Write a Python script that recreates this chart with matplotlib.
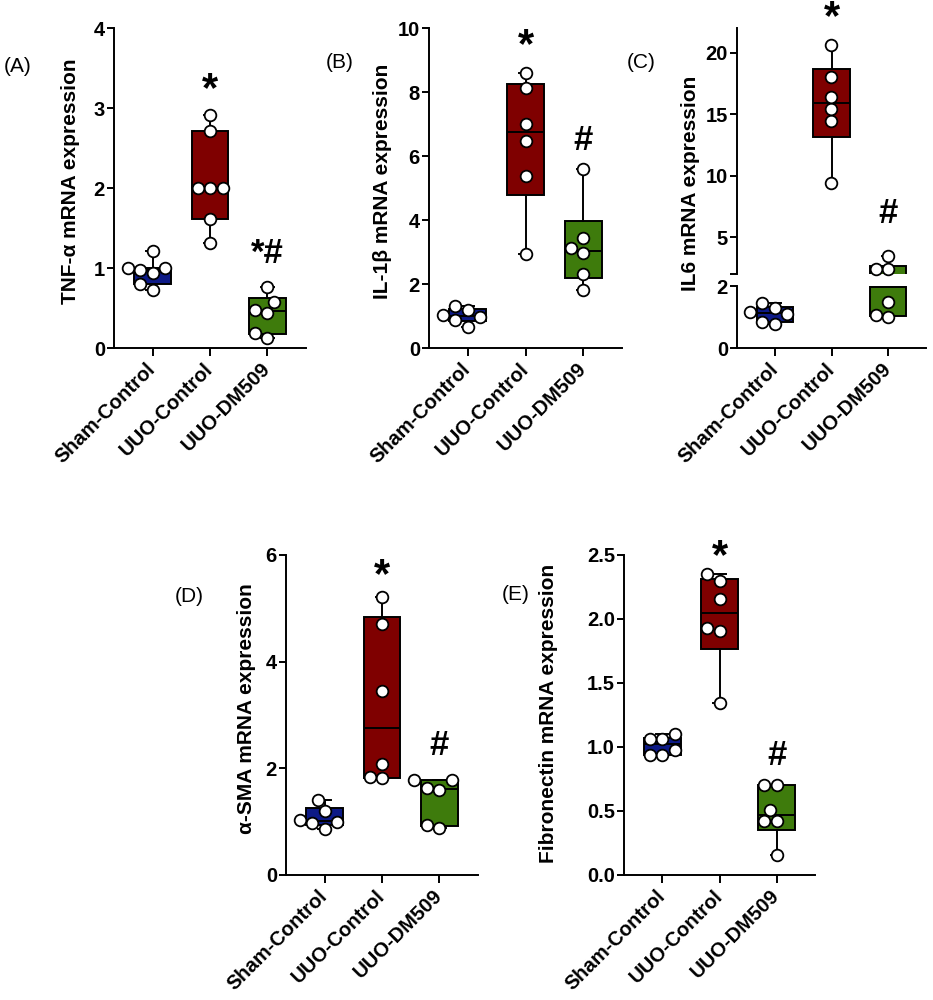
import numpy as np
import matplotlib
matplotlib.use("Agg")
import matplotlib.pyplot as plt

plt.rcParams['font.family'] = ['Liberation Sans', 'DejaVu Sans']

groups = ["Sham-Control", "UUO-Control", "UUO-DM509"]
colors = ["#0d1a87", "#7f0000", "#3e7b0c"]

# Panel A: TNF-alpha
tnf_sham = [0.73, 0.80, 0.94, 0.97, 1.00, 1.00, 1.21]
tnf_uuo = [1.31, 1.61, 2.00, 2.00, 2.00, 2.71, 2.91]
tnf_dm = [0.12, 0.19, 0.44, 0.48, 0.58, 0.76]
# Panel B: IL-1beta
il1_sham = [0.66, 0.89, 0.97, 1.02, 1.20, 1.30]
il1_uuo = [2.95, 5.38, 6.48, 7.00, 8.14, 8.60]
il1_dm = [1.80, 2.30, 2.97, 3.11, 3.44, 5.59]
# Panel C: IL6
il6_sham = [0.79, 0.84, 1.11, 1.17, 1.28, 1.46]
il6_uuo = [9.40, 14.40, 15.40, 16.40, 18.00, 20.65]
il6_dm = [1.00, 1.06, 1.49, 2.42, 2.42, 3.43]
# Panel D: alpha-SMA
sma_sham = [0.86, 0.97, 0.99, 1.04, 1.20, 1.41]
sma_uuo = [1.81, 1.83, 2.08, 3.45, 4.70, 5.22]
sma_dm = [0.89, 0.94, 1.59, 1.64, 1.78, 1.78]
# Panel E: Fibronectin
fn_sham = [0.94, 0.94, 0.98, 1.06, 1.06, 1.10]
fn_uuo = [1.34, 1.91, 1.93, 2.16, 2.30, 2.35]
fn_dm = [0.16, 0.42, 0.42, 0.51, 0.70, 0.70]

W, H = 933, 1000
fig = plt.figure(figsize=(9.33, 10), dpi=100)

def rect(l, r, t, b):
    return [l / W, 1 - b / H, (r - l) / W, (b - t) / H]

TICK_FS = 14.5
LAB_FS = 15
XT_FS = 14.5
PL_FS = 15
MS = 8.4
D_PX = 12.5
LW = 1.4

def style(ax, xlabels=True):
    for s in ['top', 'right']:
        ax.spines[s].set_visible(False)
    for s in ['left', 'bottom']:
        ax.spines[s].set_linewidth(LW)
    ax.set_xlim(-0.67, 2.67)
    ax.tick_params(axis='y', direction='out', length=5, width=LW,
                   labelsize=TICK_FS, pad=1.5)
    ax.tick_params(axis='x', direction='out', length=6, width=LW, pad=7)
    for lb in ax.get_yticklabels():
        lb.set_fontweight('bold')
    ax.set_xticks(range(3))
    if xlabels:
        ax.set_xticklabels(groups, rotation=45, ha='right', va='center',
                           rotation_mode='anchor', fontsize=XT_FS,
                           fontweight='bold')
    else:
        ax.set_xticks([])

def stats(vals):
    v = np.asarray(vals, float)
    q1, med, q3 = np.percentile(v, [25, 50, 75], method='weibull')
    return dict(med=med, q1=q1, q3=q3, whislo=v.min(), whishi=v.max(),
                fliers=[])

def draw_boxes(ax, data):
    for i, d in enumerate(data):
        ax.bxp([stats(d)], positions=[i], widths=0.64, patch_artist=True,
               showfliers=False, capwidths=[0.21],
               boxprops=dict(facecolor=colors[i], edgecolor='black', linewidth=LW),
               medianprops=dict(color='black', linewidth=LW),
               whiskerprops=dict(color='black', linewidth=LW),
               capprops=dict(color='black', linewidth=LW),
               manage_ticks=False, zorder=2)

def swarm(ax_for, data):
    """Beeswarm offsets computed in pixel space from the data values."""
    out = []
    for i, d in enumerate(data):
        placed = []
        order = np.argsort(d)
        res = [None] * len(d)
        for k in order:
            v = d[k]
            ax = ax_for(v)
            x0, y0 = ax.transData.transform((i, v))
            cands = [0]
            for m in range(1, 6):
                cands += [-m * D_PX * 0.5, m * D_PX * 0.5]
            cands = sorted(cands, key=lambda c: (abs(c), c))
            chosen = 0
            for c in cands:
                ok = all(np.hypot(x0 + c - px, y0 - py) >= D_PX * 0.98
                         for px, py in placed)
                if ok:
                    chosen = c
                    break
            placed.append((x0 + chosen, y0))
            xd, _ = ax.transData.inverted().transform((x0 + chosen, y0))
            res[k] = (ax, xd, v)
        out.extend(res)
    return out

def draw_points(pts):
    for ax, x, y in pts:
        ax.plot([x], [y], 'o', ms=MS, mfc='white', mec='black', mew=1.3,
                zorder=5, clip_on=False)

def mark(ax, x, y, s):
    fs = 30 if s == '*' else 25
    ax.text(x, y, s, ha='center', va='center', fontsize=fs,
            fontweight='bold', clip_on=False)

def panel_label(px, py, s):
    fig.text(px / W, 1 - py / H, s, ha='left', va='center', fontsize=PL_FS)

def ylabel(px, py, s):
    fig.text(px / W, 1 - py / H, s, ha='center', va='center', rotation=90,
             fontsize=LAB_FS, fontweight='bold')

# ---- Panel A
axA = fig.add_axes(rect(114, 306, 28, 348))
axA.set_ylim(0, 4)
axA.set_yticks([0, 1, 2, 3, 4])
dA = [tnf_sham, tnf_uuo, tnf_dm]
draw_boxes(axA, dA)
style(axA)
draw_points(swarm(lambda v: axA, dA))
mark(axA, 1, 3.22, '*')
mark(axA, 2, 1.18, '*#')
panel_label(4, 66, '(A)')
ylabel(70, 181, 'TNF-α mRNA expression')

# ---- Panel B
axB = fig.add_axes(rect(429, 622, 28, 348))
axB.set_ylim(0, 10)
axB.set_yticks([0, 2, 4, 6, 8, 10])
dB = [il1_sham, il1_uuo, il1_dm]
draw_boxes(axB, dB)
style(axB)
draw_points(swarm(lambda v: axB, dB))
mark(axB, 1, 9.45, '*')
mark(axB, 2, 6.5, '#')
panel_label(326, 63, '(B)')
ylabel(382, 181, 'IL-1β mRNA expression')

# ---- Panel C (broken axis)
axCl = fig.add_axes(rect(737, 926, 286, 348))
axCu = fig.add_axes(rect(737, 926, 28, 274))
axCl.set_ylim(0, 2)
axCl.set_yticks([0, 2])
axCu.set_ylim(2, 22)
axCu.set_yticks([5, 10, 15, 20])
dC = [il6_sham, il6_uuo, il6_dm]
draw_boxes(axCl, dC)
draw_boxes(axCu, dC)
style(axCl)
style(axCu, xlabels=False)
axCu.spines['bottom'].set_visible(False)
axCu.set_yticks([2], minor=True)
axCu.tick_params(axis='y', which='minor', length=5, width=LW)
draw_points(swarm(lambda v: axCl if v <= 2.0 else axCu, dC))
mark(axCu, 1, 22.8, '*')
mark(axCu, 2, 6.9, '#')
panel_label(627, 63, '(C)')
ylabel(691, 183, 'IL6 mRNA expression')

# ---- Panel D
axD = fig.add_axes(rect(286, 478, 555, 875))
axD.set_ylim(0, 6)
axD.set_yticks([0, 2, 4, 6])
dD = [sma_sham, sma_uuo, sma_dm]
draw_boxes(axD, dD)
style(axD)
draw_points(swarm(lambda v: axD, dD))
mark(axD, 1, 5.6, '*')
mark(axD, 2, 2.42, '#')
panel_label(175, 597, '(D)')
ylabel(247, 709, 'α-SMA mRNA expression')

# ---- Panel E
axE = fig.add_axes(rect(624, 815, 555, 875))
axE.set_ylim(0, 2.5)
axE.set_yticks([0, 0.5, 1.0, 1.5, 2.0, 2.5])
axE.set_yticklabels(['0.0', '0.5', '1.0', '1.5', '2.0', '2.5'])
dE = [fn_sham, fn_uuo, fn_dm]
draw_boxes(axE, dE)
style(axE)
draw_points(swarm(lambda v: axE, dE))
mark(axE, 1, 2.48, '*')
mark(axE, 2, 0.93, '#')
panel_label(502, 595, '(E)')
ylabel(549, 713, 'Fibronectin mRNA expression')

fig.savefig('out.png', dpi=100)
